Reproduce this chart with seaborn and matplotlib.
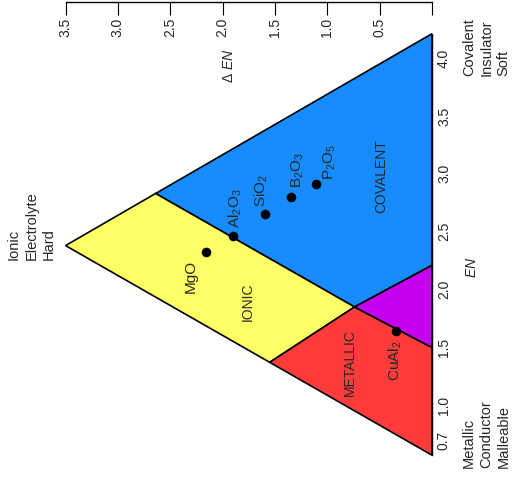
import numpy as np
import pandas as pd
import matplotlib
matplotlib.use("Agg")
import matplotlib.pyplot as plt
import seaborn as sns

# --- bond-type triangle: coordinates are (ΔEN, mean EN) ---
corner_covalent = (0.0, 4.21)
corner_metallic = (0.0, 0.57)
corner_ionic = (3.50, 2.38)

# zone boundary points
edge_cov_ion = (2.64, 2.83)
edge_met_ion = (1.55, 1.372)
junction = (0.74, 1.85)
axis_cov_semi = (0.0, 2.21)
axis_semi_met = (0.0, 1.50)

# compounds plotted on the triangle
compounds = ["MgO", "Al$_2$O$_3$", "SiO$_2$", "B$_2$O$_3$", "P$_2$O$_5$", "CuAl$_2$"]
delta_en = [2.16, 1.90, 1.595, 1.347, 1.111, 0.347]
mean_en = [2.322, 2.463, 2.65, 2.797, 2.912, 1.642]

# axis ticks
en_major = [0.7, 1.0, 1.5, 2.0, 2.5, 3.0, 3.5, 4.0]
en_minor = [round(0.7 + 0.1 * i, 1) for i in range(35)]
den_ticks = [0.0, 0.5, 1.0, 1.5, 2.0, 2.5, 3.0, 3.5]
den_labels = ["", "0.5", "1.0", "1.5", "2.0", "2.5", "3.0", "3.5"]

zone_colors = {
    "covalent": "#168cff",
    "ionic": "#ffff66",
    "metallic": "#ff3b3b",
    "semimetal": "#c400ee",
}

sns.set_theme(style="white")
plt.rcParams["font.family"] = ["Liberation Sans", "DejaVu Sans"]
plt.rcParams["mathtext.fontset"] = "custom"
plt.rcParams["mathtext.rm"] = "Liberation Sans"
plt.rcParams["mathtext.it"] = "Liberation Sans:italic"
plt.rcParams["mathtext.default"] = "regular"

W, H = 513, 493
fig = plt.figure(figsize=(W / 100, H / 100), dpi=100)
fig.patch.set_facecolor("white")
ax = fig.add_axes([40 / W, 1 - 470 / H, 392 / W, 468.5 / H])
ax.set_facecolor("none")

# zones (x = ΔEN, drawn right-to-left; y = mean EN)
zones = {
    "covalent": [corner_covalent, edge_cov_ion, junction, axis_cov_semi],
    "ionic": [edge_cov_ion, corner_ionic, edge_met_ion, junction],
    "metallic": [edge_met_ion, corner_metallic, axis_semi_met, junction],
    "semimetal": [junction, axis_semi_met, axis_cov_semi],
}
for name, verts in zones.items():
    xs = [v[0] for v in verts]
    ys = [v[1] for v in verts]
    ax.fill(xs, ys, facecolor=zone_colors[name], edgecolor="black",
            linewidth=1.2, joinstyle="miter", zorder=1)

# compounds
df = pd.DataFrame({"compound": compounds, "dEN": delta_en, "EN": mean_en})
sns.scatterplot(data=df, x="dEN", y="EN", color="black", s=48,
                edgecolor="black", linewidth=0, ax=ax, zorder=3, legend=False)

label_layout = {
    "MgO": ((-8, -8), "right", "top"),
    "Al$_2$O$_3$": ((-6, 8), "left", "bottom"),
    "SiO$_2$": ((-12, 7), "left", "bottom"),
    "B$_2$O$_3$": ((-1, 9), "left", "bottom"),
    "P$_2$O$_5$": ((6, 4), "left", "bottom"),
    "CuAl$_2$": ((-9, -9), "left", "top"),
}
for name, x, y in zip(compounds, delta_en, mean_en):
    off, ha, va = label_layout[name]
    ax.annotate(name, (x, y), xytext=off, textcoords="offset pixels",
                rotation=90, ha=ha, va=va, fontsize=11, zorder=4)

# zone names
ax.text(0.487, 2.981, "COVALENT", rotation=90, ha="center", va="center", fontsize=10, zorder=4)
ax.text(1.757, 1.893, "IONIC", rotation=90, ha="center", va="center", fontsize=10, zorder=4)
ax.text(0.784, 1.366, "METALLIC", rotation=90, ha="center", va="center", fontsize=10, zorder=4)

# axes
ax.set_xlim(3.744, 0.0)
ax.set_ylim(0.4421, 4.4879)
ax.set_xlabel("")
ax.set_ylabel("")
for side in ["left", "bottom"]:
    ax.spines[side].set_visible(False)
for side in ["top", "right"]:
    ax.spines[side].set_visible(True)
    ax.spines[side].set_color("black")
    ax.spines[side].set_linewidth(1.0)
    ax.spines[side].set_zorder(5)
ax.spines["top"].set_bounds(0.0, 3.5)
ax.spines["right"].set_bounds(corner_metallic[1], corner_covalent[1])

ax.xaxis.set_ticks_position("top")
ax.set_xticks(den_ticks)
ax.set_xticklabels(den_labels)
ax.tick_params(axis="x", which="major", direction="in", length=9.4, width=0.8,
               color="black", top=True, bottom=False, labeltop=True,
               labelbottom=False, labelrotation=90, pad=-25.6, labelsize=10)

ax.yaxis.set_ticks_position("right")
ax.set_yticks(en_major)
ax.set_yticklabels([f"{v:.1f}" for v in en_major])
ax.set_yticks([v for v in en_minor if v not in en_major], minor=True)
ax.tick_params(axis="y", which="both", direction="in", length=8.6, width=0.8,
               color="black", right=True, left=False, labelright=True,
               labelleft=False, labelrotation=90, pad=3.6, labelsize=10)
for lab in ax.get_yticklabels():
    lab.set_verticalalignment("center")
ax.grid(False)

# axis titles
fig.text(229 / W, 1 - 66 / H, r"$\Delta\ \mathit{EN}$", rotation=90,
         ha="center", va="center", fontsize=10)
fig.text(472 / W, 1 - 267 / H, r"$\mathit{EN}$", rotation=90,
         ha="center", va="center", fontsize=10)

# corner descriptions
corner_kw = dict(rotation=90, ha="left", va="bottom", multialignment="left",
                 linespacing=1.3, fontsize=10.5)
fig.text(7 / W, 1 - 260 / H, "Ionic\nElectrolyte\nHard", **corner_kw)
fig.text(462 / W, 1 - 76 / H, "Covalent\nInsulator\nSoft", **corner_kw)
fig.text(462 / W, 1 - 468 / H, "Metallic\nConductor\nMalleable", **corner_kw)

fig.savefig("out.png", dpi=100)
